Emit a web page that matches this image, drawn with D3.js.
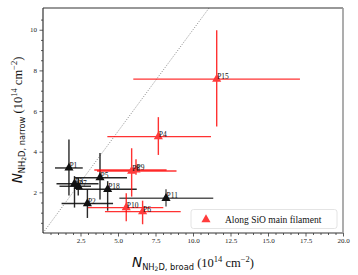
<!DOCTYPE html>
<html><head><meta charset="utf-8">
<script src="https://cdn.jsdelivr.net/npm/d3@7"></script>
<style>body{margin:0;background:#fff}svg{display:block}</style>
</head><body>
<script>
// Black points (other sources)
const blackNames = ["P1","P3","P7","P5","P18","P2","P11"];
const blackX     = [1.73, 2.10, 2.35, 3.80, 4.31, 2.96, 8.20];
const blackY     = [3.20, 2.42, 2.30, 2.72, 2.15, 1.45, 1.71];
const blackXLo   = [0.80, 0.90, 1.10, 2.10, 2.20, 1.24, 5.09];
const blackXHi   = [2.65, 3.70, 3.20, 5.60, 6.25, 4.67, 11.35];
const blackYLo   = [1.85, 1.25, 1.85, 1.65, 1.10, 0.74, 1.30];
const blackYHi   = [4.60, 2.80, 2.70, 3.93, 2.55, 2.15, 2.15];
// Red points (along SiO main filament)
const redNames = ["P15","P4","P8","P9","P10","P6"];
const redX     = [11.58, 7.69, 5.91, 6.20, 5.55, 6.64];
const redY     = [7.57, 4.74, 3.05, 3.10, 1.25, 1.05];
const redXLo   = [6.02, 4.29, 3.60, 3.42, 3.00, 4.13];
const redXHi   = [17.13, 11.20, 8.90, 8.24, 8.02, 9.18];
const redYLo   = [5.24, 3.84, 1.79, 2.86, 0.58, 0.43];
const redYHi   = [9.97, 5.70, 4.17, 3.63, 1.95, 1.59];
const xTicks = [2.5, 5, 7.5, 10, 12.5, 15, 17.5, 20];
const yTicks = [2, 4, 6, 8, 10];
const legendLabel = "Along SiO main filament";

const W = 358, H = 275;
const L = 43, R = 343, T = 8, B = 233;
const svg = d3.select("body").append("svg").attr("width", W).attr("height", H);
const x = d3.scaleLinear().domain([0, 20]).range([L, R]);
const y = d3.scaleLinear().domain([0, 11.07]).range([B, T]);

// diagonal 1:1 line
svg.append("line").attr("x1", x(0)).attr("y1", y(0)).attr("x2", x(11.07)).attr("y2", y(11.07))
  .attr("stroke", "#888").attr("stroke-width", 1).attr("stroke-dasharray", "1,1.6");

function drawSet(names, xs, ys, xlo, xhi, ylo, yhi, color, op, mcolor, colorFn) {
  const g = svg.append("g");
  names.forEach((n, i) => {
    const c = colorFn ? colorFn(n) : color;
    g.append("line").attr("x1", x(xlo[i])).attr("x2", x(xhi[i])).attr("y1", y(ys[i])).attr("y2", y(ys[i]))
      .attr("stroke", c).attr("stroke-width", 1.4).attr("opacity", op);
    g.append("line").attr("x1", x(xs[i])).attr("x2", x(xs[i])).attr("y1", y(ylo[i])).attr("y2", y(yhi[i]))
      .attr("stroke", c).attr("stroke-width", 1.4).attr("opacity", op);
  });
  names.forEach((n, i) => {
    g.append("path").attr("d", d3.symbol().type(d3.symbolTriangle).size(36)())
      .attr("transform", `translate(${x(xs[i])},${y(ys[i])})`).attr("fill", mcolor);
  });
  names.forEach((n, i) => {
    g.append("text").attr("x", x(xs[i]) + 0.5).attr("y", y(ys[i]))
      .attr("font-family", "Liberation Serif, serif").attr("font-size", 7.5).attr("fill", "#111").text(n);
  });
}
drawSet(blackNames, blackX, blackY, blackXLo, blackXHi, blackYLo, blackYHi, "#111", 0.9, "#111",
  n => n === "P11" ? "#444" : "#111");
drawSet(redNames, redX, redY, redXLo, redXHi, redYLo, redYHi, "#ff0000", 0.8, "#ff3b3b");

// spines
svg.append("line").attr("x1", L).attr("x2", R).attr("y1", T).attr("y2", T).attr("stroke", "#333").attr("stroke-width", 1.2);
svg.append("line").attr("x1", L).attr("x2", L).attr("y1", T).attr("y2", B).attr("stroke", "#333").attr("stroke-width", 1.2);
svg.append("line").attr("x1", L).attr("x2", R).attr("y1", B).attr("y2", B).attr("stroke", "#333").attr("stroke-width", 1);
svg.append("line").attr("x1", R).attr("x2", R).attr("y1", T).attr("y2", B).attr("stroke", "#999").attr("stroke-width", 1.6);

// axes
const tickFont = "Liberation Serif, serif";
const xAx = svg.append("g").attr("transform", `translate(0,${B})`)
  .call(d3.axisBottom(x).tickValues(xTicks).tickSize(3.5).tickPadding(2).tickFormat(d3.format(".1f")));
const xMin = svg.append("g").attr("transform", `translate(0,${B})`)
  .call(d3.axisBottom(x).tickValues(d3.range(0.5, 20, 0.5).filter(v => v % 2.5 !== 0)).tickSize(2).tickFormat(""));
const yAx = svg.append("g").attr("transform", `translate(${L},0)`)
  .call(d3.axisLeft(y).tickValues(yTicks).tickSize(3.5).tickPadding(2.5).tickFormat(d3.format("d")));
const yMin = svg.append("g").attr("transform", `translate(${L},0)`)
  .call(d3.axisLeft(y).tickValues(d3.range(0.5, 11, 0.5).filter(v => v % 2 !== 0)).tickSize(2).tickFormat(""));
[xAx, xMin, yAx, yMin].forEach(a => {
  a.select(".domain").remove();
  a.selectAll("line").attr("stroke", "#333").attr("stroke-width", 0.8);
  a.selectAll("text").attr("font-family", tickFont).attr("font-size", 7).attr("fill", "#222");
});

// axis labels
function axisLabel(g, sub) {
  const t = g.append("text").attr("fill", "#111");
  t.append("tspan").attr("font-family", "DejaVu Sans, sans-serif").attr("font-style", "italic").attr("font-size", 13.5).text("N");
  t.append("tspan").attr("font-family", "DejaVu Sans, sans-serif").attr("font-size", 8.3).attr("dy", 2.8).text("NH");
  t.append("tspan").attr("font-family", "DejaVu Sans, sans-serif").attr("font-size", 6).attr("dy", 1.5).text("2");
  t.append("tspan").attr("font-family", "DejaVu Sans, sans-serif").attr("font-size", 8.3).attr("dy", -1.5).text("D, " + sub);
  t.append("tspan").attr("font-family", "Liberation Serif, serif").attr("font-size", 12.5).attr("dy", -2.8).text(" (10");
  t.append("tspan").attr("font-family", "Liberation Serif, serif").attr("font-size", 8.5).attr("dy", -5).text("14");
  t.append("tspan").attr("font-family", "Liberation Serif, serif").attr("font-size", 12.5).attr("dy", 5).text(" cm");
  t.append("tspan").attr("font-family", "Liberation Serif, serif").attr("font-size", 8.5).attr("dy", -5).text("−2");
  t.append("tspan").attr("font-family", "Liberation Serif, serif").attr("font-size", 12.5).attr("dy", 5).text(")");
  return t;
}
axisLabel(svg.append("g").attr("transform", "translate(193,267)"), "broad").attr("text-anchor", "middle");
axisLabel(svg.append("g").attr("transform", "translate(22,120) rotate(-90)"), "narrow").attr("text-anchor", "middle");

// legend
const lg = svg.append("g");
lg.append("rect").attr("x", 191).attr("y", 209.5).attr("width", 146).attr("height", 19).attr("rx", 2.5)
  .attr("fill", "#fff").attr("fill-opacity", 0.85).attr("stroke", "#ddd").attr("stroke-width", 0.8);
lg.append("path").attr("d", d3.symbol().type(d3.symbolTriangle).size(36)())
  .attr("transform", "translate(206,219.5)").attr("fill", "#ff3b3b");
lg.append("text").attr("x", 225).attr("y", 222.8).attr("font-family", "Liberation Serif, serif")
  .attr("font-size", 9.5).attr("fill", "#111").text(legendLabel);
</script>
</body></html>
